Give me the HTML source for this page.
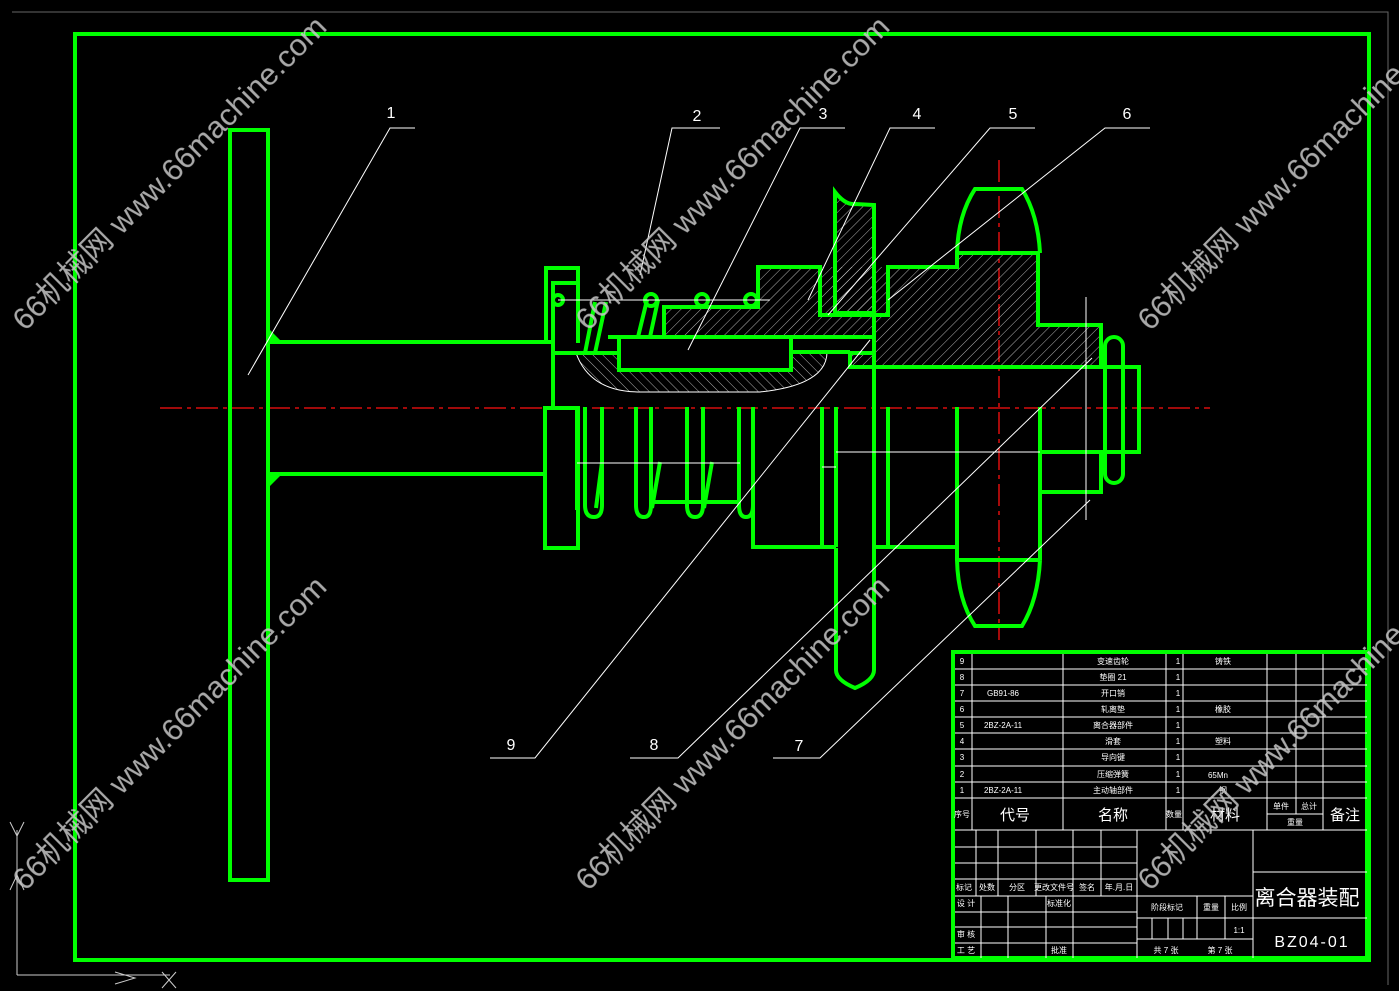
<!DOCTYPE html>
<html><head><meta charset="utf-8"><style>
html,body{margin:0;padding:0;background:#000;}
svg{display:block;}
text{font-family:"Liberation Sans","Noto Sans CJK SC",sans-serif;}
</style></head><body>
<svg width="1399" height="991" viewBox="0 0 1399 991" xmlns="http://www.w3.org/2000/svg">
<defs>
<pattern id="h" width="7" height="7" patternUnits="userSpaceOnUse" patternTransform="rotate(45)">
<line x1="0" y1="0" x2="0" y2="7" stroke="#ddd" stroke-width="0.8"/></pattern>
<pattern id="h2" width="7" height="7" patternUnits="userSpaceOnUse" patternTransform="rotate(-45)">
<line x1="0" y1="0" x2="0" y2="7" stroke="#ddd" stroke-width="0.8"/></pattern>
</defs>
<rect width="1399" height="991" fill="#000"/>
<path d="M12 12H1388V985" fill="none" stroke="#666" stroke-width="1"/>
<rect x="75" y="34" width="1294" height="926" fill="none" stroke="#00ff00" stroke-width="4"/>
<line x1="160" y1="408" x2="1210" y2="408" stroke="#ff1010" stroke-width="1.3" stroke-dasharray="22,5,4,5"/>
<line x1="999" y1="160" x2="999" y2="640" stroke="#ff1010" stroke-width="1.3" stroke-dasharray="22,5,4,5"/>
<!-- hatched areas -->
<path d="M874 267H957V253H1038V325H1101V367H850V353H874Z" fill="url(#h)"/>
<path d="M664 335V307H758V267H874V337H664Z" fill="url(#h)"/>
<path d="M835 192Q845 205 855 204L874 205V313H835Z" fill="url(#h)"/>
<path d="M576 353Q590 392 640 392H760Q827 385 827 352H792V371H618V353Z" fill="url(#h2)" stroke="#fff" stroke-width="1"/>
<g fill="none" stroke="#00ff00" stroke-width="4" stroke-linejoin="miter">
<rect x="230" y="130" width="38" height="750"/>
<path d="M268 342H553M268 474H545"/>
<path d="M546 343V268H578V343M553 410V283H578M553 353H618"/>
<rect x="545" y="408" width="33" height="140"/>
<rect x="619" y="337" width="172" height="33"/>
<path d="M608 337H664V307H758V267H820V315H888V267H957V253H1038V325H1101V367H850V353H874M791 337H874M791 352H850"/>
<path d="M835 192Q845 205 855 204L874 205V313H835Z"/>
<path d="M874 313V670Q874 680 855 688Q836 680 836 670V548"/>
<path d="M957 253Q958 215 975 189H1022Q1038 215 1040 253"/>
<path d="M957 560H1040M957 560Q958 600 975 626H1022Q1038 600 1040 560"/>
<path d="M957 407V560M1040 407V560"/>
<path d="M1040 367H1139V452H1040M1040 452V492H1101V452"/>
<rect x="1105" y="337" width="18" height="146" rx="9"/>
<path d="M753 407V547H836M874 547H957M822 407V547M836 407V547M888 407V547"/>
<path d="M651 502H739"/>
<path d="M577 407V510M585 407V505Q585 517 594 517Q602 517 602 505V407"/>
<path d="M636 407V505Q636 517 644 517Q651 517 651 505V407M687 407V505Q687 517 695 517Q703 517 703 505V407M739 407V505Q739 517 746 517Q753 517 753 505V407"/>
<path d="M602 462L596 508M660 462L652 508M712 462L704 508"/>
<path d="M585 353L595 302M595 353L606 302M638 337L647 300M650 337L658 300"/>
<circle cx="651" cy="300" r="6"/><circle cx="702" cy="300" r="6"/><circle cx="751" cy="300" r="6"/><circle cx="558" cy="300" r="5"/>
</g>
<path d="M268 328L268 342L282 342Z M268 488L268 474L282 474Z" fill="#00ff00"/>
<g stroke="#fff" stroke-width="1" fill="none">
<path d="M558 300H770M577 463H740M836 452H1040M822 467H836"/>
<path d="M1086 297V520"/>
<path d="M248 375L390 128H415"/>
<path d="M640 275L672 128H720"/>
<path d="M688 350L800 128H845"/>
<path d="M808 300L890 128H935"/>
<path d="M828 315L990 128H1035"/>
<path d="M888 300L1105 128H1150"/>
<path d="M870 340L535 758H490"/>
<path d="M1092 358L678 758H630"/>
<path d="M1090 500L820 758H773"/>
</g>
<g fill="#fff" font-size="16" text-anchor="middle">
<text x="391" y="118">1</text><text x="697" y="121">2</text><text x="823" y="119">3</text><text x="917" y="119">4</text><text x="1013" y="119">5</text><text x="1127" y="119">6</text>
<text x="511" y="750">9</text><text x="654" y="750">8</text><text x="799" y="751">7</text>
</g>
<g stroke="#ccc" fill="none" stroke-width="1"><path d="M17 975V830M10 822L17 836L24 822M17 975H170M115 972L135 978L115 984M162 972L176 988M176 972L162 988M10 890L17 875L24 890"/></g>
<rect x="953" y="652" width="414" height="306" fill="#000" stroke="#00ff00" stroke-width="4"/>
<g stroke="#fff" stroke-width="1" fill="none">
<path d="M955 669H1367M955 685H1367M955 701H1367M955 717H1367M955 733H1367M955 749H1367M955 766H1367M955 782H1367M955 798H1367M955 830H1367"/>
<path d="M972 654V830M1063 654V830M1166 654V830M1183 654V830M1267 654V830M1296 654V814M1323 654V830M1267 814H1323"/>
<path d="M955 847H1137M955 863H1137M955 879H1137M955 896H1137M955 912H1137M955 927H1137M955 943H1137"/>
<path d="M976 830V896M998 830V896M1036 830V896M1073 830V958M1101 830V896M1137 830V958M1253 830V958"/>
<path d="M981 896V958M1008 896V958M1046 896V958"/>
<path d="M1137 896H1253M1137 918H1253M1137 939H1253M1152 918V939M1168 918V939M1183 918V939M1197 896V939M1225 896V939"/>
<path d="M1253 872H1367M1253 918H1367"/>
</g>
<g fill="#fff" font-size="8" text-anchor="middle">
<text x="962" y="664">9</text><text x="962" y="680">8</text><text x="962" y="696">7</text><text x="962" y="712">6</text><text x="962" y="728">5</text><text x="962" y="744">4</text><text x="962" y="760">3</text><text x="962" y="777">2</text><text x="962" y="793">1</text>
<text x="1003" y="696">GB91-86</text><text x="1003" y="728">2BZ-2A-11</text><text x="1003" y="793">2BZ-2A-11</text>
<text x="1113" y="664">变速齿轮</text><text x="1113" y="680">垫圈 21</text><text x="1113" y="696">开口销</text><text x="1113" y="712">轧离垫</text><text x="1113" y="728">离合器部件</text><text x="1113" y="744">滑套</text><text x="1113" y="760">导向键</text><text x="1113" y="777">压缩弹簧</text><text x="1113" y="793">主动轴部件</text>
<text x="1178" y="664">1</text><text x="1178" y="680">1</text><text x="1178" y="696">1</text><text x="1178" y="712">1</text><text x="1178" y="728">1</text><text x="1178" y="744">1</text><text x="1178" y="760">1</text><text x="1178" y="777">1</text><text x="1178" y="793">1</text>
<text x="1223" y="664">铸铁</text><text x="1223" y="712">橡胶</text><text x="1223" y="744">塑料</text><text x="1218" y="778">65Mn</text><text x="1223" y="793">钢</text>
<text x="962" y="817">序号</text><text x="1174" y="817">数量</text><text x="1281" y="809">单件</text><text x="1309" y="809">总计</text><text x="1295" y="825">重量</text>
<text x="964" y="890">标记</text><text x="987" y="890">处数</text><text x="1017" y="890">分区</text><text x="1054" y="890">更改文件号</text><text x="1087" y="890">签名</text><text x="1119" y="890">年.月.日</text>
<text x="966" y="906">设 计</text><text x="1059" y="906">标准化</text><text x="966" y="937">审 核</text><text x="966" y="953">工 艺</text><text x="1059" y="953">批准</text>
<text x="1167" y="910">阶段标记</text><text x="1211" y="910">重量</text><text x="1239" y="910">比例</text><text x="1239" y="933">1:1</text>
<text x="1166" y="953">共 7 张</text><text x="1220" y="953">第 7 张</text>
</g>
<g fill="#fff" text-anchor="middle">
<text x="1015" y="820" font-size="15">代号</text><text x="1113" y="820" font-size="15">名称</text><text x="1225" y="820" font-size="15">材料</text><text x="1345" y="820" font-size="15">备注</text>
<text x="1307" y="905" font-size="21">离合器装配</text>
<text x="1312" y="947" font-size="16" letter-spacing="2">BZ04-01</text>
</g>
<g fill="#c8c8c8" font-size="31" opacity="0.85">
<text transform="translate(25,332) rotate(-45)">66机械网 www.66machine.com</text>
<text transform="translate(588,332) rotate(-45)">66机械网 www.66machine.com</text>
<text transform="translate(1150,332) rotate(-45)">66机械网 www.66machine.com</text>
<text transform="translate(25,892) rotate(-45)">66机械网 www.66machine.com</text>
<text transform="translate(588,892) rotate(-45)">66机械网 www.66machine.com</text>
<text transform="translate(1150,892) rotate(-45)">66机械网 www.66machine.com</text>
</g>
</svg>
</body></html>
